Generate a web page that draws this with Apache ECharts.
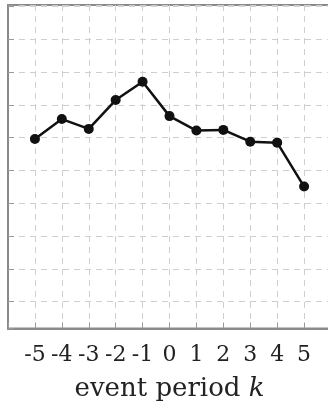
<!DOCTYPE html>
<html>
<head>
<meta charset="utf-8">
<script src="https://cdn.jsdelivr.net/npm/echarts@6/dist/echarts.min.js"></script>
<style>
html,body{margin:0;padding:0;background:#fff;overflow:hidden;width:328px;height:410px;}
#c{width:340px;height:410px;}
</style>
</head>
<body>
<div id="c"></div>
<script>
const periods = [-5, -4, -3, -2, -1, 0, 1, 2, 3, 4, 5];
const values = [5.96, 6.57, 6.27, 7.15, 7.71, 6.66, 6.22, 6.24, 5.88, 5.85, 4.51];
const tickLabels = ['-5', '-4', '-3', '-2', '-1', '0', '1', '2', '3', '4', '5'];

const chart = echarts.init(document.getElementById('c'), null, {renderer: 'canvas'});
const serif = '"DejaVu Serif", "Liberation Serif", serif';
chart.setOption({
  animation: false,
  grid: {left: 8, top: 5, width: 323, bottom: 81.5, show: true, borderColor: '#8a8a8a', borderWidth: 2, backgroundColor: 'transparent'},
  xAxis: {
    type: 'value', min: -6, max: 6, interval: 1,
    axisLine: {onZero: false, lineStyle: {color: '#8a8a8a', width: 2}},
    axisTick: {show: true, inside: true, length: 6, lineStyle: {color: '#999', width: 1}},
    axisLabel: {
      color: '#222', fontFamily: serif, fontSize: 22, margin: 16,
      formatter: function (v) { const i = periods.indexOf(v); return i >= 0 ? tickLabels[i] : ''; }
    },
    splitLine: {show: true, lineStyle: {color: '#cfcfcf', width: 1, type: [6, 5]}},
    name: '{a|event period }{b|k}',
    nameLocation: 'middle', nameGap: 48,
    nameTextStyle: {
      rich: {
        a: {fontFamily: serif, fontSize: 26, color: '#222'},
        b: {fontFamily: serif, fontSize: 26, fontStyle: 'italic', color: '#222'}
      }
    }
  },
  yAxis: {
    type: 'value', min: 0.18, max: 10.05, splitNumber: 10,
    axisLine: {show: true, onZero: false, lineStyle: {color: '#8a8a8a', width: 2}},
    axisTick: {show: true, inside: true, length: 6, lineStyle: {color: '#999', width: 1}},
    axisLabel: {show: false},
    splitLine: {show: true, lineStyle: {color: '#cfcfcf', width: 1, type: [6, 5]}}
  },
  series: [{
    type: 'line',
    data: periods.map((p, i) => [p, values[i]]),
    lineStyle: {color: '#111', width: 2.5},
    itemStyle: {color: '#111'},
    symbol: 'circle', symbolSize: 10,
    showSymbol: true
  }]
});
</script>
</body>
</html>
